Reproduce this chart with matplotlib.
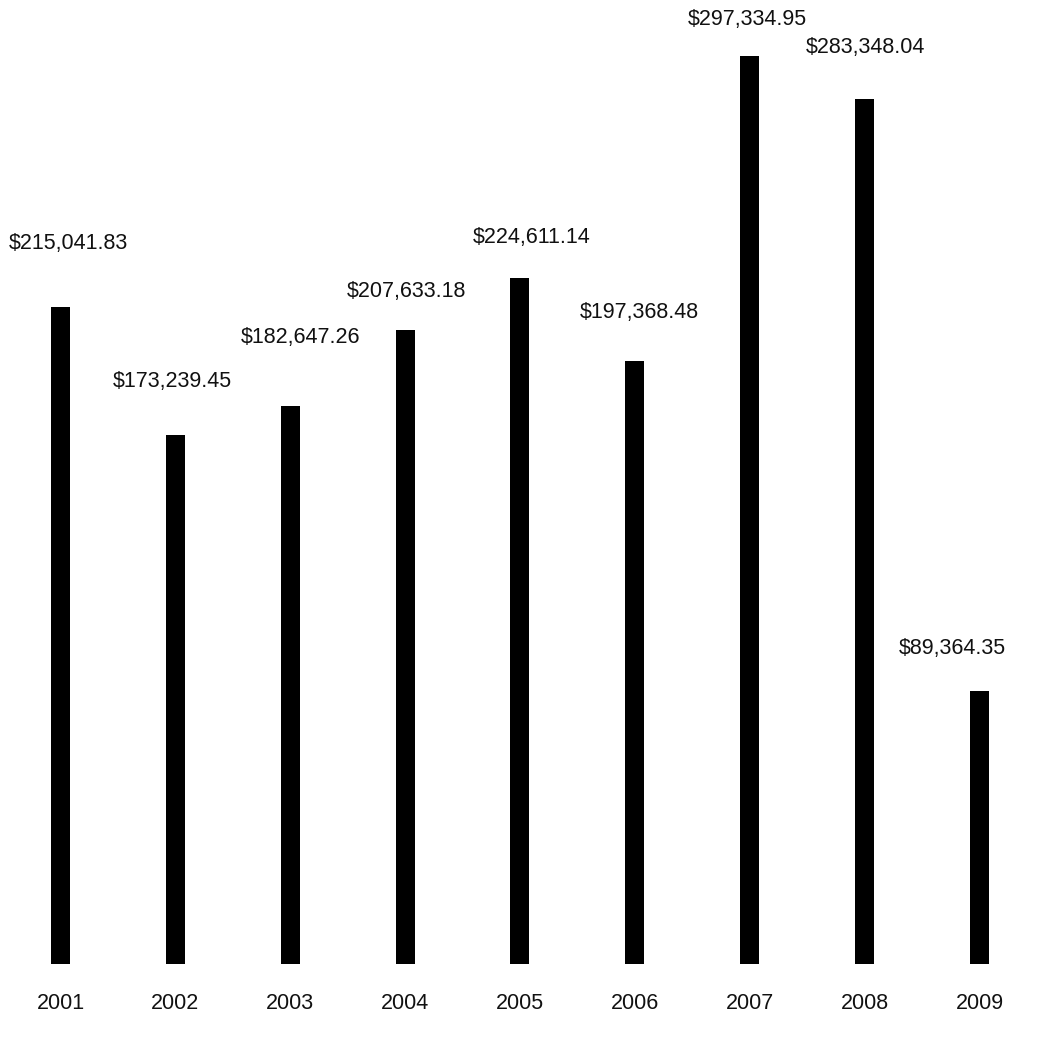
import matplotlib
matplotlib.use("Agg")
import matplotlib.pyplot as plt

years = ["2001", "2002", "2003", "2004", "2005", "2006", "2007", "2008", "2009"]
sales = [215041.83, 173239.45, 182647.26, 207633.18, 224611.14,
         197368.48, 297334.95, 283348.04, 89364.35]

# label nudges in pixels (x, y) relative to bar centre / bar top
label_dx = [7.5, -3, 10, 1.5, 11.5, 4.5, -2.5, 0.5, -27]
label_dy = [64, 53, 69, 38, 41, 49, 36, 51, 43]

plt.rcParams["font.family"] = ["Liberation Sans", "DejaVu Sans"]

W, H = 1046, 1040
fig = plt.figure(figsize=(W / 100, H / 100), dpi=100)
ax = fig.add_axes([0, (H - 964) / H, 1, (964 - 56) / H])

step = 114.875
x = list(range(len(years)))
ax.bar(x, sales, width=19 / step, color="black")
ax.set_xlim(-60.5 / step, (W - 60.5) / step)
ax.set_ylim(0, max(sales))

for i, v in enumerate(sales):
    ax.annotate("${:,.2f}".format(v), xy=(i, v), xytext=(label_dx[i], label_dy[i]),
                textcoords="offset pixels", ha="center", va="center",
                fontsize=15.5, color="#111111", annotation_clip=False)

ax.set_xticks(x)
ax.set_xticklabels(years, fontsize=15.5, color="#111111")
ax.tick_params(axis="x", length=0, pad=21)
ax.set_yticks([])
for s in ax.spines.values():
    s.set_visible(False)

fig.savefig("out.png", dpi=100)
